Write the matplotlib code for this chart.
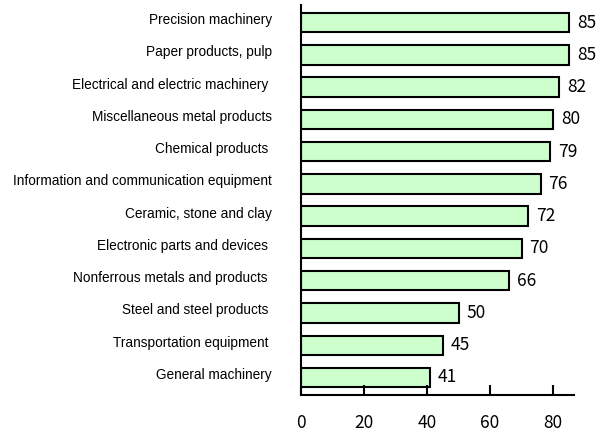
import matplotlib.pyplot as plt
import matplotlib.transforms as mtransforms

industries = [
    "Precision machinery",
    "Paper products, pulp",
    "Electrical and electric machinery ",
    "Miscellaneous metal products",
    "Chemical products ",
    "Information and communication equipment",
    "Ceramic, stone and clay",
    "Electronic parts and devices ",
    "Nonferrous metals and products ",
    "Steel and steel products ",
    "Transportation equipment ",
    "General machinery",
]
scores = [85, 85, 82, 80, 79, 76, 72, 70, 66, 50, 45, 41]
xticks = [0, 20, 40, 60, 80]

num_font = ["Noto Sans CJK JP", "DejaVu Sans"]

fig = plt.figure(figsize=(5.97, 4.33), dpi=100)
ax = fig.add_axes([0.504, 0.088, 0.458, 0.900])

pos = list(range(len(industries)))[::-1]
ax.barh(pos, scores, height=0.6, color="#ccffcc", edgecolor="black", linewidth=1.5)

for y, v in zip(pos, scores):
    ax.text(v + 2.5, y, str(v), va="center", ha="left",
            fontsize=12.5, family=num_font)

ax.set_xlim(0, 86.7)
ax.set_ylim(-0.54, len(industries) - 0.46)
ax.set_xticks(xticks)
ax.set_xticklabels([str(t) for t in xticks], fontsize=12.5, family=num_font)
ax.tick_params(axis="x", direction="in", length=7, width=1.5, pad=14)
ax.set_yticks(pos)
ax.set_yticklabels(industries, fontsize=9.8, family="Liberation Sans")
ax.tick_params(axis="y", length=0, pad=21)

# category names sit a little above the bar centres
shift = mtransforms.ScaledTranslation(0, 0.04, fig.dpi_scale_trans)
for lbl in ax.get_yticklabels():
    lbl.set_transform(lbl.get_transform() + shift)

for s in ["top", "right"]:
    ax.spines[s].set_visible(False)
ax.spines["left"].set_linewidth(1.5)
ax.spines["bottom"].set_linewidth(1.5)

fig.savefig("out.png", dpi=100)
